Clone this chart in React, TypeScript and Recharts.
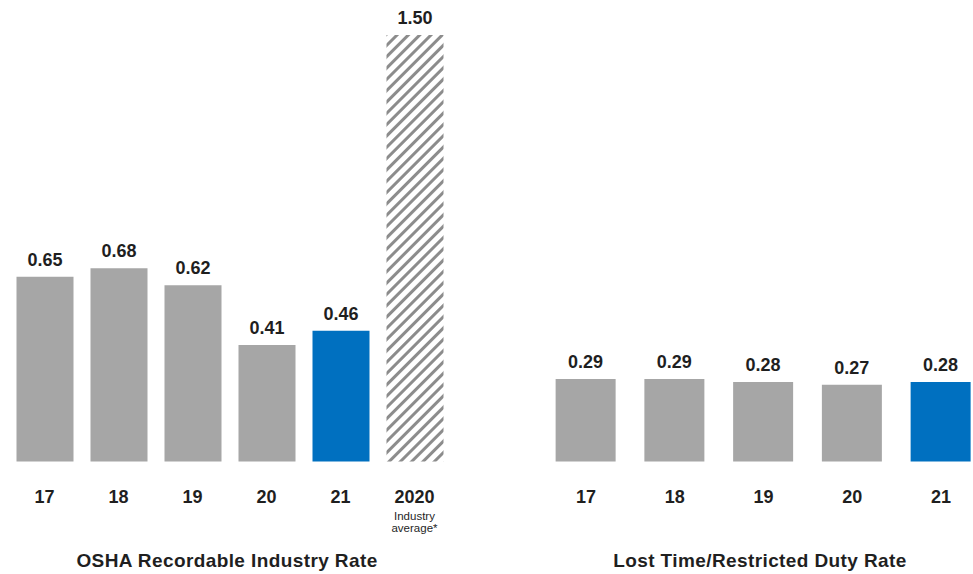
import React from "react";
import { BarChart, Bar, XAxis, YAxis, Cell, LabelList } from "recharts";

const oshaYears = ["17", "18", "19", "20", "21", "2020"];
const oshaRates = [0.65, 0.68, 0.62, 0.41, 0.46, 1.5];
const lostYears = ["17", "18", "19", "20", "21"];
const lostRates = [0.29, 0.29, 0.28, 0.27, 0.28];

const oshaData = oshaYears.map((year, i) => ({ year, rate: oshaRates[i] }));
const lostData = lostYears.map((year, i) => ({ year, rate: lostRates[i] }));

const GRAY = "#a6a6a6";
const BLUE = "#0070c0";
const TEXT = "#1f1f1f";
const FONT = "'Liberation Sans', Arial, sans-serif";

const YearTick = (props: any) => {
  const { x, y, payload } = props;
  const isAvg = payload.value === "2020";
  return (
    <g>
      <text x={x} y={y + 41.5} textAnchor="middle" fontSize={18} fontWeight={700} fill={TEXT} fontFamily={FONT}>
        {payload.value}
      </text>
      {isAvg && (
        <text x={x} y={y + 58.5} textAnchor="middle" fontSize={11.5} fill={TEXT} fontFamily={FONT}>
          Industry
        </text>
      )}
      {isAvg && (
        <text x={x} y={y + 70.5} textAnchor="middle" fontSize={11.5} fill={TEXT} fontFamily={FONT}>
          average*
        </text>
      )}
    </g>
  );
};

const ValueLabel = (props: any) => {
  const { x, y, width, value } = props;
  return (
    <text x={x + width / 2} y={y - 11} textAnchor="middle" fontSize={18} fontWeight={700} fill={TEXT} fontFamily={FONT}>
      {Number(value).toFixed(2)}
    </text>
  );
};

const titleStyle: React.CSSProperties = {
  position: "absolute",
  top: 550,
  fontFamily: FONT,
  fontWeight: 700,
  fontSize: 19,
  letterSpacing: 0.4,
  color: TEXT,
  textAlign: "center",
  width: 400,
  lineHeight: "22px",
};

export default function App() {
  return (
    <div style={{ position: "absolute", left: 0, top: 0, width: 973, height: 574, overflow: "hidden", background: "#fff" }}>
      <svg width={0} height={0} style={{ position: "absolute" }}>
        <defs>
          <pattern id="hatch" patternUnits="userSpaceOnUse" width={8} height={8} patternTransform="rotate(45)">
            <rect width={8} height={8} fill="#fff" />
            <rect x={0} y={0} width={3} height={8} fill="#8c8c8c" />
          </pattern>
        </defs>
      </svg>

      <div style={{ position: "absolute", left: 0, top: 0 }}>
        <BarChart width={460} height={574} data={oshaData} margin={{ top: 35, right: 8.5, bottom: 52.5, left: 7.5 }}>
          <XAxis dataKey="year" height={60} axisLine={false} tickLine={false} tickSize={0} tickMargin={0} interval={0} tick={<YearTick />} />
          <YAxis hide domain={[0, 1.5]} />
          <Bar dataKey="rate" barSize={57} isAnimationActive={false}>
            {oshaData.map((d, i) => (
              <Cell key={d.year} fill={i === 5 ? "url(#hatch)" : i === 4 ? BLUE : GRAY} />
            ))}
            <LabelList dataKey="rate" content={<ValueLabel />} />
          </Bar>
        </BarChart>
      </div>

      <div style={{ position: "absolute", left: 530, top: 0 }}>
        <BarChart width={470} height={574} data={lostData} margin={{ top: 35, right: 14.625, bottom: 52.5, left: 11.625 }}>
          <XAxis dataKey="year" height={60} axisLine={false} tickLine={false} tickSize={0} tickMargin={0} interval={0} tick={<YearTick />} />
          <YAxis hide domain={[0, 1.5]} />
          <Bar dataKey="rate" barSize={60} isAnimationActive={false}>
            {lostData.map((d, i) => (
              <Cell key={d.year} fill={i === 4 ? BLUE : GRAY} />
            ))}
            <LabelList dataKey="rate" content={<ValueLabel />} />
          </Bar>
        </BarChart>
      </div>

      <div style={{ ...titleStyle, left: 27 }}>OSHA Recordable Industry Rate</div>
      <div style={{ ...titleStyle, left: 560 }}>Lost Time/Restricted Duty Rate</div>
    </div>
  );
}
